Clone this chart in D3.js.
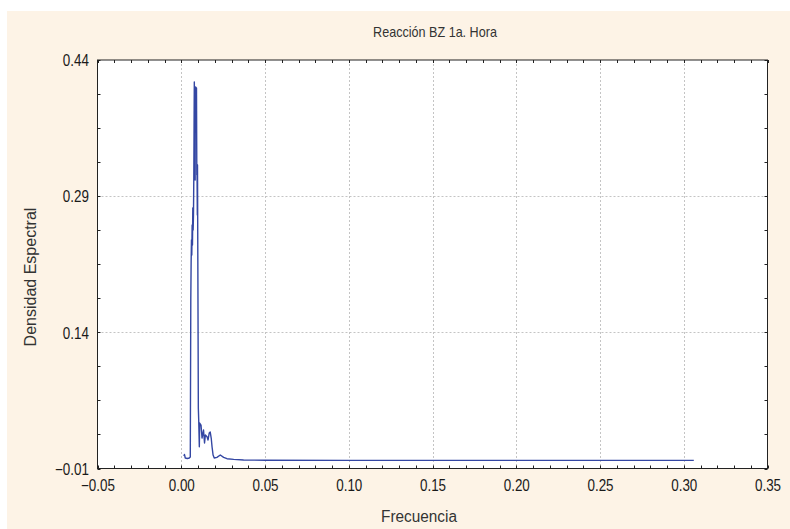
<!DOCTYPE html>
<html><head><meta charset="utf-8">
<script src="https://cdn.jsdelivr.net/npm/d3@7/dist/d3.min.js"></script>
<style>
html,body{margin:0;padding:0;background:#fff;}
svg{display:block;font-family:"Liberation Sans",Arial,sans-serif;}
</style></head>
<body>
<svg id="chart" width="790" height="529"></svg>
<script>
const title = "Reacción BZ 1a. Hora";
const xLabel = "Frecuencia";
const yLabel = "Densidad Espectral";
const xTicks = [-0.05, 0.00, 0.05, 0.10, 0.15, 0.20, 0.25, 0.30, 0.35];
const yTicks = [-0.01, 0.14, 0.29, 0.44];
const freq = [0.0016,0.0019,0.0024,0.0036,0.0048,0.0054,0.0057,0.0059,0.0061,0.0063,0.0065,0.0067,0.0069,0.0071,0.0073,0.0075,0.0077,0.0078,0.0080,0.0081,0.0083,0.0084,0.0086,0.0089,0.0091,0.0093,0.0094,0.0096,0.0097,0.0099,0.0102,0.0104,0.0108,0.0110,0.0118,0.0124,0.0133,0.0139,0.0144,0.0154,0.0160,0.0167,0.0173,0.0179,0.0184,0.0190,0.0197,0.0213,0.0233,0.0253,0.0273,0.0313,0.0372,0.0502,0.1000,0.2000,0.3060];
const dens = [0.0038,0.0054,0.0016,0.0010,0.0016,0.0027,0.1756,0.2175,0.2417,0.2252,0.2582,0.2362,0.2770,0.2527,0.2693,0.3111,0.3849,0.4158,0.3651,0.4014,0.3078,0.4069,0.4103,0.3849,0.4091,0.3133,0.3243,0.2693,0.3243,0.2197,0.0566,0.0450,0.0140,0.0401,0.0379,0.0236,0.0324,0.0181,0.0269,0.0250,0.0214,0.0291,0.0302,0.0233,0.0137,0.0049,0.0016,0.0023,0.0049,0.0023,0.0008,0.0001,-0.0006,-0.0009,-0.0010,-0.0010,-0.0010];

const svg = d3.select("#chart");
const W = 790, H = 529;
const m = {left: 97.5, right: 767.5, top: 60, bottom: 468.5};
const FONT = "Liberation Sans, Arial, sans-serif";

svg.append("rect").attr("x",7).attr("y",11).attr("width",W-7).attr("height",H-11).attr("fill","#fdf3e6");

const x = d3.scaleLinear().domain([-0.05, 0.35]).range([m.left, m.right]);
const y = d3.scaleLinear().domain([-0.01, 0.44]).range([m.bottom, m.top]);

svg.append("rect").attr("x",m.left).attr("y",m.top).attr("width",m.right-m.left).attr("height",m.bottom-m.top).attr("fill","#fff");

// grid
const g = svg.append("g");
g.selectAll(".gx").data(xTicks.slice(1,-1)).enter().append("line")
  .attr("x1",d=>Math.round(x(d))+0.5).attr("x2",d=>Math.round(x(d))+0.5)
  .attr("y1",m.top).attr("y2",m.bottom)
  .attr("stroke","#c4c4c4").attr("stroke-dasharray","2,2").attr("stroke-width",1);
g.selectAll(".gy").data(yTicks.slice(1,-1)).enter().append("line")
  .attr("y1",d=>Math.round(y(d))+0.5).attr("y2",d=>Math.round(y(d))+0.5)
  .attr("x1",m.left).attr("x2",m.right)
  .attr("stroke","#c4c4c4").attr("stroke-dasharray","2,2").attr("stroke-width",1);

// minor ticks
const xMinor = d3.range(-0.05, 0.3501, 0.01);
const yMinor = d3.range(-0.01, 0.4401, 0.0375);
const tk = svg.append("g").attr("stroke","#222").attr("stroke-width",1);
xMinor.forEach(d=>{
  const px = Math.round(x(d))+0.5;
  tk.append("line").attr("x1",px).attr("x2",px).attr("y1",m.bottom).attr("y2",m.bottom-3);
  tk.append("line").attr("x1",px).attr("x2",px).attr("y1",m.top).attr("y2",m.top+3);
});
yMinor.forEach(d=>{
  const py = Math.round(y(d))+0.5;
  tk.append("line").attr("y1",py).attr("y2",py).attr("x1",m.left).attr("x2",m.left+3);
  tk.append("line").attr("y1",py).attr("y2",py).attr("x1",m.right).attr("x2",m.right-3);
});

// axes labels (via d3 axes, text then restyled)
const fmt = d3.format(".2f");
const xAxis = d3.axisBottom(x).tickValues(xTicks).tickFormat(fmt).tickSize(0).tickPadding(0);
const xa = svg.append("g").attr("transform",`translate(0,${m.bottom})`).call(xAxis);
xa.select(".domain").remove();
xa.selectAll("text").attr("dy",null).attr("y",23).attr("font-size",16).attr("fill","#1a1a1a")
  .attr("font-family",FONT).attr("transform","scale(0.84,1)")
  .each(function(d){ d3.select(this).attr("x", x(d)/0.84 - x(d)/0.84 + 0); });
// place each label: tick group has translate(x,0); scale only affects text width
xa.selectAll(".tick text").attr("x",0);

const yAxis = d3.axisLeft(y).tickValues(yTicks).tickFormat(fmt).tickSize(0).tickPadding(0);
const ya = svg.append("g").attr("transform",`translate(${m.left},0)`).call(yAxis);
ya.select(".domain").remove();
ya.selectAll("text").attr("dy",null).attr("y",5.8).attr("x",-8.5/0.84).attr("font-size",16).attr("fill","#1a1a1a")
  .attr("font-family",FONT).attr("transform","scale(0.84,1)");

// frame
svg.append("rect").attr("x",m.left).attr("y",m.top).attr("width",m.right-m.left).attr("height",m.bottom-m.top)
  .attr("fill","none").attr("stroke","#222").attr("stroke-width",1);

// line
const pts = freq.map((f,i)=>[f,dens[i]]);
const line = d3.line().x(d=>x(d[0])).y(d=>y(d[1]));
svg.append("path").datum(pts).attr("d",line).attr("fill","none")
  .attr("stroke","#3447a3").attr("stroke-width",1.4).attr("stroke-linejoin","round");

// titles
svg.append("text").attr("transform",`translate(435,37) scale(0.9,1)`).attr("text-anchor","middle")
  .attr("font-size",14).attr("fill","#333").attr("font-family",FONT).text(title);
svg.append("text").attr("transform",`translate(419,522) scale(0.96,1)`).attr("text-anchor","middle")
  .attr("font-size",16).attr("fill","#333").attr("font-family",FONT).text(xLabel);
svg.append("text").attr("transform",`translate(36,277) rotate(-90)`).attr("text-anchor","middle")
  .attr("font-size",16).attr("fill","#333").attr("font-family",FONT).text(yLabel);
</script>
</body></html>
